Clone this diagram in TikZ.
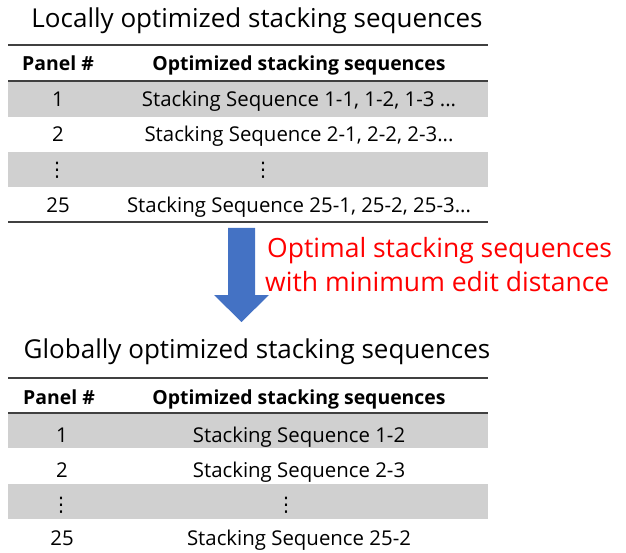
\documentclass[tikz,border=0pt]{standalone}
\usepackage{fontspec}
\setmainfont{Open Sans}
\newfontfamily\dotfont{DejaVu Sans}
\definecolor{rowgray}{HTML}{D0D0D0}
\definecolor{rulegray}{HTML}{404040}
\definecolor{arrowblue}{HTML}{4472C4}
\definecolor{redtxt}{HTML}{FF0000}
\begin{document}
\begin{tikzpicture}[x=1pt,y=-1pt,
  title/.style={font=\fontsize{26}{30}\selectfont, inner sep=0, anchor=base},
  cell/.style={font=\fontsize{20.4}{24}\selectfont, inner sep=0, anchor=base},
  vd/.style={font=\dotfont\fontsize{20}{24}\selectfont, inner sep=0, anchor=base},
  head/.style={font=\fontsize{19.4}{23}\selectfont\bfseries, inner sep=0, anchor=base},
  note/.style={font=\fontsize{26.5}{30}\selectfont, text=redtxt, inner sep=0, anchor=base west},
  rulel/.style={draw=rulegray, line width=2pt}]
\useasboundingbox (0,0) rectangle (626,553);

% ---------- top table ----------
\node[title] (t1) at (257,28) {Locally optimized stacking sequences};
\fill[rowgray] (8,81) rectangle (488,117);
\fill[rowgray] (8,152) rectangle (488,187);
\draw[rulel] (8,45) -- (488,45);
\draw[rulel] (8,81) -- (488,81);
\draw[rulel] (8,222) -- (488,222);
\node[head] (h1a) at (58,71) {Panel \#};
\node[head] (h1b) at (299,71) {Optimized stacking sequences};
\node[cell] (a1) at (58,107) {1};
\node[cell] (b1) at (299,107) {Stacking Sequence 1-1, 1-2, 1-3 ...};
\node[cell] (a2) at (58,142) {2};
\node[cell] (b2) at (299,142) {Stacking Sequence 2-1, 2-2, 2-3...};
\node[vd] (a3) at (57,177) {⋮};
\node[vd] (b3) at (263,177) {⋮};
\node[cell] (a4) at (58,213) {25};
\node[cell] (b4) at (299,213) {Stacking Sequence 25-1, 25-2, 25-3...};

% ---------- arrow ----------
\fill[arrowblue] (228,228) -- (255,228) -- (255,295) -- (269,295) -- (241.5,322)
  -- (214,295) -- (228,295) -- cycle;
\node[note] (n1) at (267,258) {Optimal stacking sequences};
\node[note] (n2) at (265,291) {with minimum edit distance};

% ---------- bottom table ----------
\node[title] (t2) at (257,358) {Globally optimized stacking sequences};
\fill[rowgray] (8,413) rectangle (488,448);
\fill[rowgray] (8,484) rectangle (488,519);
\draw[rulel] (8,378) -- (488,378);
\draw[rulel] (8,413) -- (488,413);
\node[head] (h2a) at (59,404) {Panel \#};
\node[head] (h2b) at (299,404) {Optimized stacking sequences};
\node[cell] (c1) at (62,442) {1};
\node[cell] (d1) at (299,442) {Stacking Sequence 1-2};
\node[cell] (c2) at (62,477) {2};
\node[cell] (d2) at (299,477) {Stacking Sequence 2-3};
\node[vd] (c3) at (61,511) {⋮};
\node[vd] (d3) at (286,511) {⋮};
\node[cell] (c4) at (62,545) {25};
\node[cell] (d4) at (299,545) {Stacking Sequence 25-2};
\end{tikzpicture}
\end{document}
